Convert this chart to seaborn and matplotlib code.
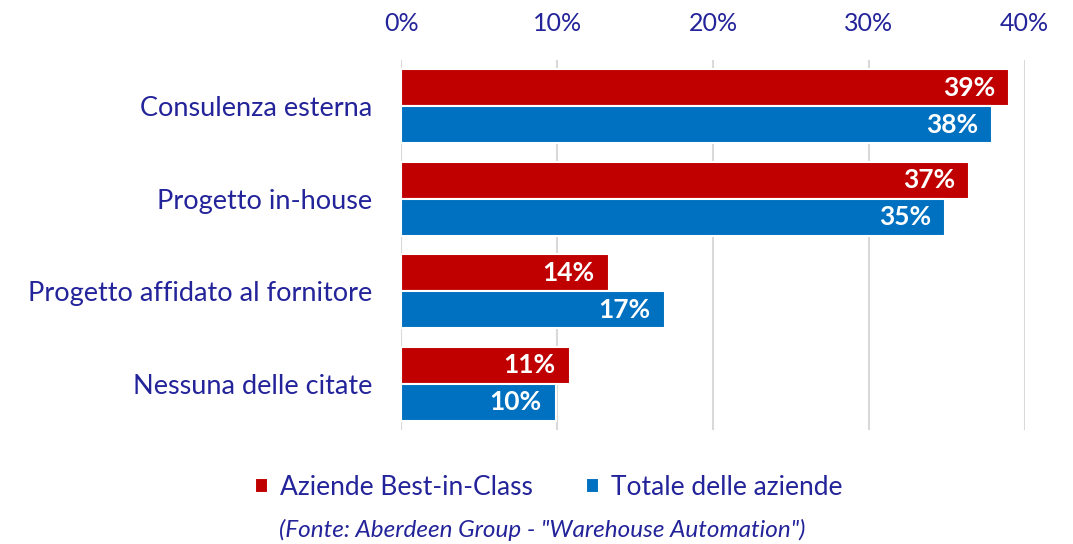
import pandas as pd
import matplotlib.pyplot as plt
import seaborn as sns
from matplotlib.ticker import PercentFormatter

# dati
categorie = ['Consulenza esterna', 'Progetto in-house',
             'Progetto affidato al fornitore', 'Nessuna delle citate']
best_in_class = [39.0, 36.4, 13.3, 10.8]
totale = [37.9, 34.9, 16.9, 9.9]
etichette_best = ['39%', '37%', '14%', '11%']
etichette_totale = ['38%', '35%', '17%', '10%']
serie = ['Aziende Best-in-Class', 'Totale delle aziende']

df = pd.DataFrame({'Categoria': categorie * 2,
                   'Valore': best_in_class + totale,
                   'Serie': [serie[0]] * 4 + [serie[1]] * 4})

sns.set_style('white')
plt.rcParams['font.family'] = ['Lato', 'DejaVu Sans']
navy = '#23239a'

fig, ax = plt.subplots(figsize=(10.73, 5.44), dpi=100)
fig.subplots_adjust(left=0.374, right=0.955, top=0.89, bottom=0.21)

sns.barplot(data=df, y='Categoria', x='Valore', hue='Serie', orient='h',
            palette=['#C00000', '#0070C0'], width=0.8, saturation=1,
            edgecolor='white', linewidth=1.5, ax=ax)

# etichette dati
for cont, labs in zip(ax.containers, [etichette_best, etichette_totale]):
    txts = ax.bar_label(cont, labels=labs, padding=-10, color='white',
                        fontsize=19, fontweight='bold')
    for t in txts:
        t.set_horizontalalignment('right')

ax.set_xlim(0, 40)
ax.xaxis.set_major_formatter(PercentFormatter(decimals=0))
ax.set_xticks([0, 10, 20, 30, 40])
ax.xaxis.tick_top()
ax.tick_params(axis='x', length=0, pad=18, labelsize=18, labelcolor=navy)
ax.tick_params(axis='y', length=0, pad=21, labelsize=19.5, labelcolor=navy)
ax.grid(axis='x', color='#d9d9d9', linewidth=1.5)
ax.set_axisbelow(True)
sns.despine(ax=ax, left=True, bottom=True, top=True, right=True)
ax.set_xlabel('')
ax.set_ylabel('')

ax.legend(loc='center', bbox_to_anchor=(0.236, -0.157), ncol=2,
          frameon=False, fontsize=19, labelcolor=navy, handlelength=0.5,
          handleheight=0.5, handletextpad=0.45, columnspacing=2.0)

fig.text(0.505, 0.012, '(Fonte: Aberdeen Group - "Warehouse Automation")',
         ha='center', fontsize=17.5, fontstyle='italic', color=navy)

plt.savefig('out.png', dpi=100)
